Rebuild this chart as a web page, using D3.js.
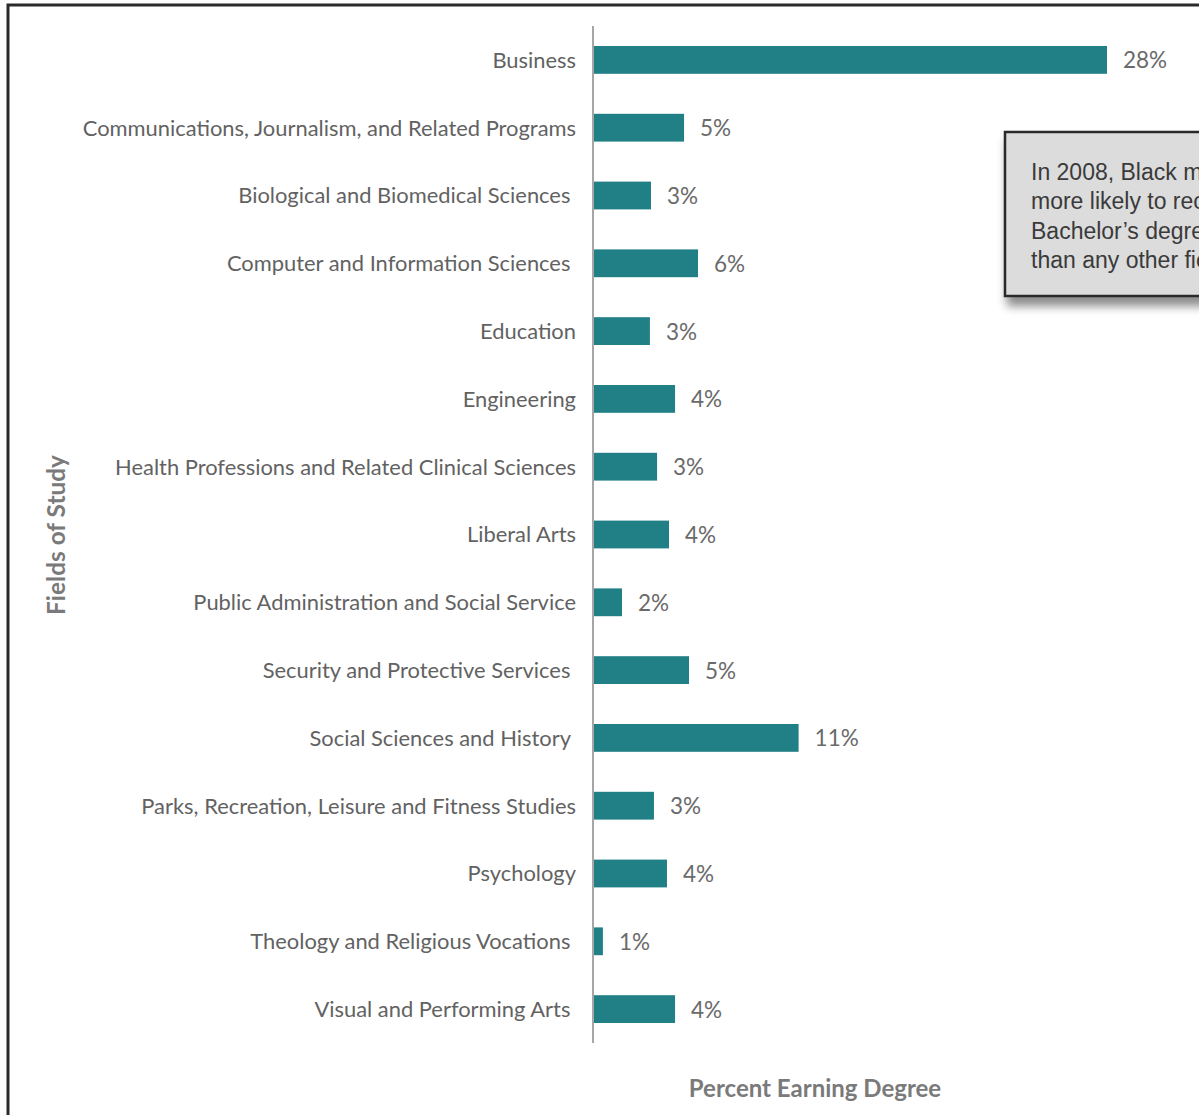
<!DOCTYPE html>
<html>
<head>
<meta charset="utf-8">
<script src="https://cdn.jsdelivr.net/npm/d3@7"></script>
<style>
  html, body { margin: 0; padding: 0; background: #fff; overflow: hidden; }
  svg { display: block; }
</style>
</head>
<body>
<svg id="chart" width="1199" height="1115"></svg>
<script>
const categories = [
  "Business",
  "Communications, Journalism, and Related Programs",
  "Biological and Biomedical Sciences\u00a0",
  "Computer and Information Sciences\u00a0",
  "Education",
  "Engineering",
  "Health Professions and Related Clinical Sciences",
  "Liberal Arts",
  "Public Administration and Social Service",
  "Security and Protective Services\u00a0",
  "Social Sciences and History\u00a0",
  "Parks, Recreation, Leisure and Fitness Studies",
  "Psychology",
  "Theology and Religious Vocations\u00a0",
  "Visual and Performing Arts\u00a0"
];
const values = [28.0, 4.96, 3.16, 5.72, 3.1, 4.47, 3.49, 4.14, 1.58, 5.23, 11.2, 3.32, 4.03, 0.54, 4.47];
const xTitle = "Percent Earning Degree";
const yTitle = "Fields of Study";
const noteLines = [
  "In 2008, Black men were",
  "more likely to receive a",
  "Bachelor\u2019s degree in Business",
  "than any other field."
];

const svg = d3.select("#chart");
const defs = svg.append("defs");
const f = defs.append("filter").attr("id", "shadow")
  .attr("x", "-20%").attr("y", "-20%").attr("width", "150%").attr("height", "160%");
f.append("feDropShadow").attr("dx", 3).attr("dy", 9).attr("stdDeviation", 5)
  .attr("flood-color", "#000").attr("flood-opacity", 0.45);
defs.append("clipPath").attr("id", "pageclip")
  .append("rect").attr("x", 0).attr("y", 0).attr("width", 1199).attr("height", 1115);

// outer frame
svg.append("rect").attr("x", 8).attr("y", 5).attr("width", 1400).attr("height", 1400)
  .attr("fill", "none").attr("stroke", "#2a2a2a").attr("stroke-width", 3);

const x = d3.scaleLinear().domain([0, 28]).range([593, 1107]);
const y = d3.scaleBand().domain(categories).range([26, 1043]).paddingInner(0.59).paddingOuter(0.295);

// bars
svg.append("g").selectAll("rect").data(values).join("rect")
  .attr("x", x(0))
  .attr("y", (d, i) => y(categories[i]))
  .attr("width", d => x(d) - x(0))
  .attr("height", y.bandwidth())
  .attr("fill", "#217f86");

// category axis
const yAxis = d3.axisLeft(y).tickSize(0).tickPadding(17);
const gy = svg.append("g").attr("transform", `translate(${x(0)},0)`).call(yAxis);
gy.select(".domain").attr("stroke", "#a6a6a6").attr("stroke-width", 2)
  .attr("d", `M0,26V1043`);
gy.selectAll("text")
  .style("white-space", "pre")
  .attr("font-family", "Lato, 'Open Sans', sans-serif")
  .attr("font-size", 21.9)
  .attr("dy", "0.36em")
  .attr("fill", "#626262");

// value labels
svg.append("g").selectAll("text").data(values).join("text")
  .attr("x", d => x(d) + 16)
  .attr("y", (d, i) => y(categories[i]) + y.bandwidth() / 2)
  .attr("dy", "0.38em")
  .attr("font-family", "Lato, 'Open Sans', sans-serif")
  .attr("font-size", 22.5)
  .attr("fill", "#6a6a6a")
  .text(d => Math.round(d) + "%");

// axis titles
svg.append("text").attr("x", 815).attr("y", 1097)
  .attr("text-anchor", "middle")
  .attr("font-family", "Lato, 'Open Sans', sans-serif")
  .attr("font-weight", "bold").attr("font-size", 24)
  .attr("fill", "#7a7a7a").text(xTitle);

svg.append("text")
  .attr("transform", "translate(65,535) rotate(-90)")
  .attr("text-anchor", "middle")
  .attr("font-family", "Lato, 'Open Sans', sans-serif")
  .attr("font-weight", "bold").attr("font-size", 24.4)
  .attr("fill", "#7a7a7a").text(yTitle);

// annotation box (runs off the right edge, as in the reference)
const note = svg.append("g").attr("clip-path", "url(#pageclip)");
note.append("rect").attr("x", 1005).attr("y", 132).attr("width", 400).attr("height", 164)
  .attr("fill", "#dcdcdd").attr("stroke", "#2a2a2a").attr("stroke-width", 2.5)
  .attr("filter", "url(#shadow)");
note.selectAll("text.note").data(noteLines).join("text")
  .attr("class", "note")
  .attr("x", 1031)
  .attr("y", (d, i) => 180 + i * 29.3)
  .attr("font-family", "'Liberation Sans', Arial, sans-serif")
  .attr("font-size", 23)
  .attr("fill", "#3a3a3a")
  .text(d => d);
</script>
</body>
</html>
